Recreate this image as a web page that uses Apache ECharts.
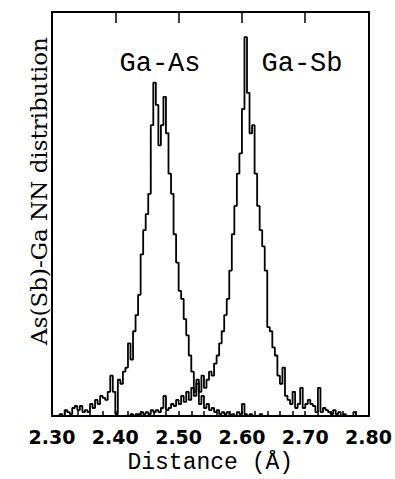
<!DOCTYPE html>
<html>
<head>
<meta charset="utf-8">
<style>
html,body{margin:0;padding:0;background:#fff;}
#chart{width:395px;height:479px;}
</style>
<script src="https://cdn.jsdelivr.net/npm/echarts@6/dist/echarts.min.js"></script>
</head>
<body>
<div id="chart"></div>
<script>
// Histogram bins: left edges start at 2.300 Å, width 0.004 Å (125 bins)
const binStart = 2.300;
const binWidth = 0.004;
const xTickLabels = ['2.30', '2.40', '2.50', '2.60', '2.70', '2.80'];
const seriesNames = ['Ga-As', 'Ga-Sb'];
const xTitle = 'Distance (Å)';
const yTitle = 'As(Sb)-Ga NN distribution';

const gaAs = [
  0, 0, 0, 0.5, 0, 1.5, 1, 0.5, 2, 2.5,
  1.5, 2.5, 1, 1.5, 1, 3, 2, 4, 3, 5,
  4.5, 4, 6, 10, 6, 0.5, 9, 8, 11, 12,
  18, 14, 21, 25, 30, 40, 46, 50, 55, 72,
  82.5, 77, 67, 72, 79, 70, 60, 55, 45, 38,
  31, 29, 24, 20, 15, 11, 6, 9, 3, 5,
  2, 3, 1.5, 2, 1, 1.5, 0.5, 1, 0.5, 1,
  0, 0.5, 0, 1, 0.5, 3, 0.5, 0, 0.5, 0,
  0, 0, 0.5, 0, 0, 0, 0, 0, 0, 0,
  0, 0, 0, 0, 0, 0, 0, 0, 0, 0,
  0, 0, 0, 0, 0, 0, 0, 0, 0, 0,
  0, 0, 0, 0, 0, 0, 0, 0, 0, 0,
  0, 0, 0, 0, 0
];
const gaSb = [
  0, 0, 0, 0, 0, 0, 0, 0, 0, 0,
  0, 0, 0, 0, 0, 0, 0, 0, 0, 0,
  0, 0, 0, 0, 0, 0, 0, 0, 0, 0,
  0, 0.5, 0, 0.5, 0.5, 1, 0.5, 1, 0.5, 1.5,
  1, 1.5, 1, 2, 5, 1.5, 2, 3, 2.5, 4,
  3, 5, 3.5, 6, 4, 7, 5, 8, 6, 10,
  7, 9, 11, 10, 13, 15, 18, 21, 25, 29,
  36, 45, 52, 60, 65, 76, 93.8, 80, 70, 72,
  60, 52, 46, 42, 36, 22, 21, 17, 15, 10,
  8, 12, 5, 4, 3, 6, 2, 3, 7, 2,
  3, 4, 3, 2.5, 1, 7, 1, 2, 1.5, 1,
  0.5, 1.5, 0.5, 1, 0, 0.5, 0, 0, 0, 1,
  0, 0, 0, 0, 0
];

function stepData(vals) {
  const d = vals.map((v, i) => [+(binStart + i * binWidth).toFixed(4), v]);
  d.push([+(binStart + vals.length * binWidth).toFixed(4), vals[vals.length - 1]]);
  return d;
}

const chart = echarts.init(document.getElementById('chart'), null, {renderer: 'svg'});
const axisMin = 2.3, axisMax = 2.8, axisInterval = 0.1;
const lineStyleAxis = {color: '#000', width: 2};

chart.setOption({
  animation: false,
  backgroundColor: '#fff',
  grid: {left: 52, right: 24, top: 12, bottom: 61, containLabel: false},
  xAxis: [
    {
      type: 'value', position: 'bottom', min: axisMin, max: axisMax, interval: axisInterval,
      axisLine: {show: true, onZero: false, lineStyle: lineStyleAxis},
      axisTick: {show: true, inside: true, length: 5, lineStyle: {color: '#000', width: 1.5}},
      minorTick: {show: true, splitNumber: 5, length: 5, lineStyle: {color: '#000', width: 1.5}},
      splitLine: {show: false},
      axisLabel: {
        show: true, margin: 11, color: '#000', fontFamily: 'DejaVu Sans', fontSize: 19, fontWeight: 'bold',
        formatter: v => xTickLabels[Math.round((v - axisMin) / axisInterval)]
      },
      name: xTitle, nameLocation: 'middle', nameGap: 31,
      nameTextStyle: {color: '#000', fontFamily: 'Liberation Mono', fontSize: 23}
    },
    {
      type: 'value', position: 'top', min: axisMin, max: axisMax, interval: axisInterval,
      axisLine: {show: true, onZero: false, lineStyle: lineStyleAxis},
      axisTick: {show: true, inside: true, length: 11, lineStyle: {color: '#000', width: 1.5}},
      axisLabel: {show: false}, splitLine: {show: false}
    }
  ],
  yAxis: [
    {
      type: 'value', position: 'left', min: 0, max: 100,
      axisLine: {show: true, onZero: false, lineStyle: lineStyleAxis},
      axisTick: {show: false}, axisLabel: {show: false}, splitLine: {show: false}
    },
    {
      type: 'value', position: 'right', min: 0, max: 100,
      axisLine: {show: true, onZero: false, lineStyle: lineStyleAxis},
      axisTick: {show: false}, axisLabel: {show: false}, splitLine: {show: false}
    }
  ],
  series: [
    {
      name: seriesNames[0], type: 'line', step: 'end', xAxisIndex: 0, yAxisIndex: 0,
      data: stepData(gaAs), showSymbol: false, symbol: 'none',
      lineStyle: {color: '#000', width: 1.8}
    },
    {
      name: seriesNames[1], type: 'line', step: 'end', xAxisIndex: 0, yAxisIndex: 0,
      data: stepData(gaSb), showSymbol: false, symbol: 'none',
      lineStyle: {color: '#000', width: 1.8}
    }
  ],
  graphic: [
    {
      type: 'text', x: 160, y: 64,
      style: {text: seriesNames[0], fill: '#000', font: '27px "Liberation Mono"', textAlign: 'center', textVerticalAlign: 'middle'}
    },
    {
      type: 'text', x: 302, y: 64,
      style: {text: seriesNames[1], fill: '#000', font: '27px "Liberation Mono"', textAlign: 'center', textVerticalAlign: 'middle'}
    },
    {
      type: 'text', x: 39, y: 191, rotation: Math.PI / 2,
      style: {text: yTitle, fill: '#000', font: '23px "DejaVu Serif"', textAlign: 'center', textVerticalAlign: 'middle'}
    }
  ]
});
</script>
</body>
</html>
